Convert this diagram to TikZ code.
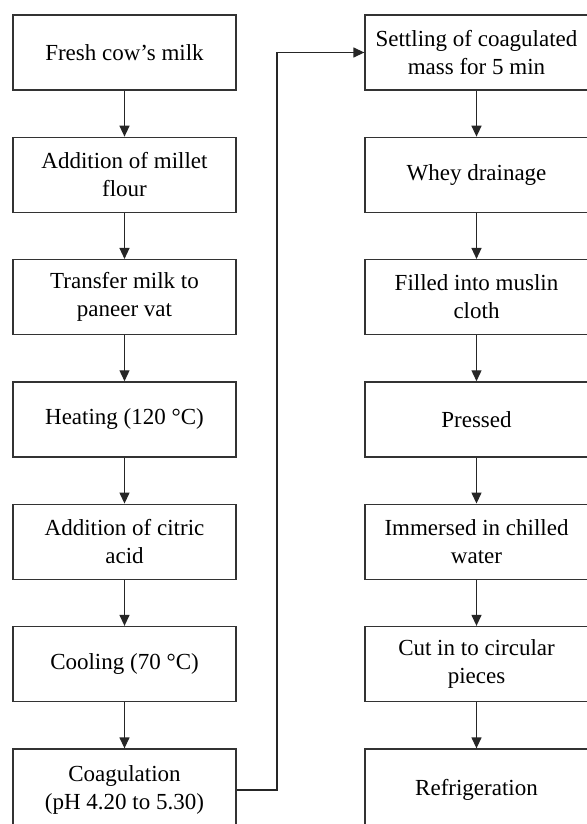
\documentclass[tikz,border=0pt]{standalone}
\usepackage{fontspec}
\setmainfont{Liberation Serif}
\usetikzlibrary{arrows.meta}
\tikzset{
  stepbox/.style={draw=black!80, line width=1.3pt, fill=white, minimum width=223pt, minimum height=75pt, inner sep=0pt, align=center, font=\fontsize{23}{28}\selectfont},
  lastbox/.style={stepbox, minimum height=82pt},
  flowarrow/.style={draw=black!85, line width=1.3pt, -{Triangle[length=11pt,width=10pt]}}
}
\begin{document}
\begin{tikzpicture}[x=1pt,y=-1pt]
\useasboundingbox (0,0) rectangle (586,824);
\fill[white] (0,0) rectangle (586,824);
\node[stepbox] (milk) at (124.5,52.5) {Fresh cow’s milk};
\node[stepbox] (millet) at (124.5,174.8) {Addition of millet\\flour};
\node[stepbox] (vat) at (124.5,297.1) {Transfer milk to\\paneer vat};
\node[stepbox] (heat) at (124.5,419.4) {Heating (120 °C)};
\node[stepbox] (citric) at (124.5,541.7) {Addition of citric\\acid};
\node[stepbox] (cool) at (124.5,664.0) {Cooling (70 °C)};
\node[lastbox] (coag) at (124.5,790.0) {Coagulation\\(pH 4.20 to 5.30)};
\node[stepbox] (settle) at (476.5,52.5) {Settling of coagulated\\mass for 5 min};
\node[stepbox] (whey) at (476.5,174.8) {Whey drainage};
\node[stepbox] (muslin) at (476.5,297.1) {Filled into muslin\\cloth};
\node[stepbox] (press) at (476.5,419.4) {Pressed};
\node[stepbox] (chill) at (476.5,541.7) {Immersed in chilled\\water};
\node[stepbox] (cut) at (476.5,664.0) {Cut in to circular\\pieces};
\node[lastbox] (fridge) at (476.5,790.0) {Refrigeration};
\coordinate (bend) at (277,0);
\draw[flowarrow] (milk) -- (millet);
\draw[flowarrow] (millet) -- (vat);
\draw[flowarrow] (vat) -- (heat);
\draw[flowarrow] (heat) -- (citric);
\draw[flowarrow] (citric) -- (cool);
\draw[flowarrow] (cool) -- (coag);
\draw[flowarrow] (coag.east) -- (coag.east -| bend) |- (settle.west);
\draw[flowarrow] (settle) -- (whey);
\draw[flowarrow] (whey) -- (muslin);
\draw[flowarrow] (muslin) -- (press);
\draw[flowarrow] (press) -- (chill);
\draw[flowarrow] (chill) -- (cut);
\draw[flowarrow] (cut) -- (fridge);
\end{tikzpicture}
\end{document}
